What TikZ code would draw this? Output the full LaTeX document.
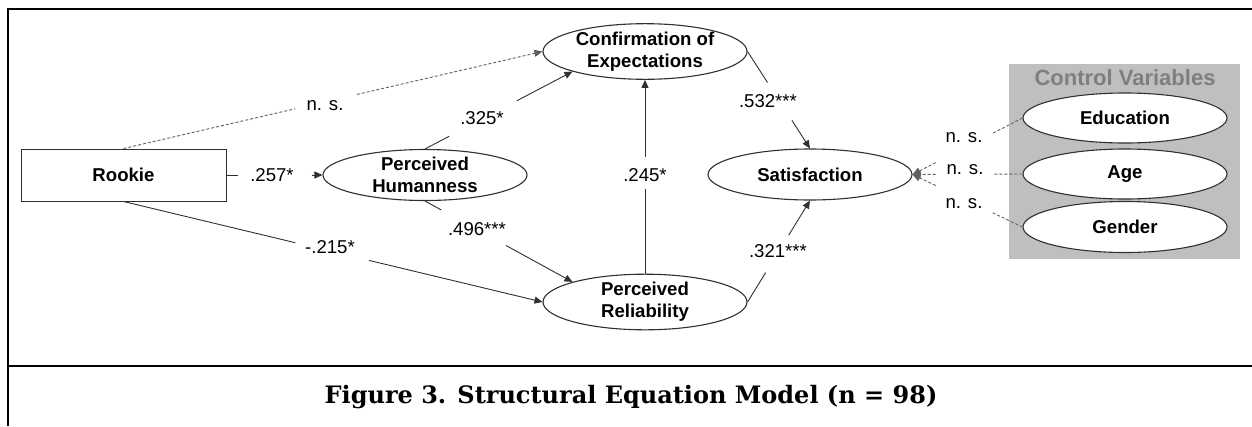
\documentclass[tikz,border=0pt]{standalone}
\usepackage{fontspec}
\setmainfont{Liberation Sans}
\newfontfamily\capfont{DejaVu Serif}
\usetikzlibrary{arrows.meta,shapes.geometric}
\definecolor{edgec}{HTML}{303030}
\definecolor{dashc}{HTML}{606060}
\definecolor{ctrlfill}{HTML}{BFBFBF}
\definecolor{ctrltext}{HTML}{7F7F7F}
\begin{document}
\begin{tikzpicture}[x=1pt,y=-1pt,
  frameline/.style={line width=2pt,black},
  rbox/.style={draw=edgec,line width=1pt,rectangle,minimum width=205pt,minimum height=52pt,inner sep=0pt,
    font=\fontsize{18.6}{22}\selectfont\bfseries},
  lat/.style={draw=edgec,line width=1.1pt,ellipse,minimum width=204pt,minimum height=51pt,inner sep=0pt,fill=white,
    align=center,font=\fontsize{18.6}{22}\selectfont\bfseries},
  lbl/.style={inner sep=0pt,text height=13.4pt,text depth=0pt,font=\fontsize{18.6}{22}\selectfont},
  nslbl/.style={inner sep=0pt,text height=9.8pt,text depth=0pt,font=\fontsize{18.6}{22}\selectfont},
  sline/.style={draw=edgec,line width=0.9pt},
  dline/.style={draw=dashc,line width=0.9pt,dash pattern=on 3pt off 2pt},
  tip/.style={-{Triangle[length=8pt,width=7pt]}},
  ctrlbox/.style={fill=ctrlfill,draw=none,rectangle,minimum width=231pt,minimum height=195pt,inner sep=0pt},
  ctrltitle/.style={inner sep=0pt,text=ctrltext,font=\fontsize{22}{26}\selectfont\bfseries},
  caption/.style={inner sep=0pt,font=\capfont\bfseries\fontsize{24}{28}\selectfont}
]
\useasboundingbox (0,0) rectangle (1252,426);
\fill[white] (0,0) rectangle (1252,426);

% frame
\draw[frameline] (8,426) -- (8,9) -- (1252,9);
\draw[frameline] (8,366) -- (1252,366);

% nodes
\node[rbox] (rookie) at (123.5,175) {Rookie};
\node[lat] (hum) at (425,175) {Perceived\\Humanness};
\node[lat] (conf) at (645,51.5) {Confirmation of\\Expectations};
\node[lat] (rel) at (645,302) {Perceived\\Reliability};
\node[lat] (sat) at (810,174.5) {Satisfaction};

\node[ctrlbox] (ctrl) at (1124.5,161.5) {};
\node[ctrltitle] (ctrlt) at (1125,78) {Control Variables};
\node[lat,minimum height=50pt] (edu) at (1125,118) {Education};
\node[lat,minimum height=50pt] (age) at (1125,174) {Age};
\node[lat,minimum height=51pt] (gen) at (1125,227) {Gender};

% Rookie -> Confirmation (n.s., dashed)
\path (rookie.north) -- (conf.west) coordinate[pos=0.41] (e1a) coordinate[pos=0.557] (e1b);
\draw[dline] (rookie.north) -- (e1a);
\draw[dline,tip] (e1b) -- (conf.west);
\node[nslbl] (l1) at (325,106) {n. s.};

% Rookie -> Humanness
\path (rookie.east) -- (hum.west) coordinate[pos=0.124] (e2a) coordinate[pos=0.887] (e2b);
\draw[sline] (rookie.east) -- (e2a);
\draw[sline,tip] (e2b) -- (hum.west);
\node[lbl] (l2) at (272,175) {.257*};

% Rookie -> Reliability
\path (rookie.south) -- (rel.west) coordinate[pos=0.41] (e3a) coordinate[pos=0.586] (e3b);
\draw[sline] (rookie.south) -- (e3a);
\draw[sline,tip] (e3b) -- (rel.west);
\node[lbl] (l3) at (330,247) {-.215*};

% Humanness -> Confirmation
\path (hum.north) -- (conf.south west) coordinate[pos=0.164] (e4a) coordinate[pos=0.623] (e4b);
\draw[sline] (hum.north) -- (e4a);
\draw[sline,tip] (e4b) -- (conf.south west);
\node[lbl] (l4) at (482,118) {.325*};

% Humanness -> Reliability
\path (hum.south) -- (rel.north west) coordinate[pos=0.11] (e5a) coordinate[pos=0.55] (e5b);
\draw[sline] (hum.south) -- (e5a);
\draw[sline,tip] (e5b) -- (rel.north west);
\node[lbl] (l5) at (477,229) {.496***};

% Reliability -> Confirmation
\path (rel.north) -- (conf.south) coordinate[pos=0.435] (e6a) coordinate[pos=0.6] (e6b);
\draw[sline] (rel.north) -- (e6a);
\draw[sline,tip] (e6b) -- (conf.south);
\node[lbl] (l6) at (645,175) {.245*};

% Confirmation -> Satisfaction
\path (conf.east) -- (sat.north) coordinate[pos=0.32] (e7a) coordinate[pos=0.71] (e7b);
\draw[sline] (conf.east) -- (e7a);
\draw[sline,tip] (e7b) -- (sat.north);
\node[lbl] (l7) at (768,101) {.532***};

% Reliability -> Satisfaction
\path (rel.east) -- (sat.south) coordinate[pos=0.29] (e8a) coordinate[pos=0.66] (e8b);
\draw[sline] (rel.east) -- (e8a);
\draw[sline,tip] (e8b) -- (sat.south);
\node[lbl] (l8) at (778,251) {.321***};

% Control variables -> Satisfaction
\path (edu.west) -- (sat.east) coordinate[pos=0.27] (c1a) coordinate[pos=0.79] (c1b);
\draw[dline] (edu.west) -- (c1a);
\draw[dline,tip] (c1b) -- (sat.east);
\node[nslbl] (n1) at (964,138) {n. s.};

\path (age.west) -- (sat.east) coordinate[pos=0.26] (c2a) coordinate[pos=0.79] (c2b);
\draw[dline] (age.west) -- (c2a);
\draw[dline,tip] (c2b) -- (sat.east);
\node[nslbl] (n2) at (965,170) {n. s.};

\path (gen.west) -- (sat.east) coordinate[pos=0.27] (c3a) coordinate[pos=0.79] (c3b);
\draw[dline] (gen.west) -- (c3a);
\draw[dline,tip] (c3b) -- (sat.east);
\node[nslbl] (n3) at (964,204) {n. s.};

% caption
\node[caption] (cap) at (631,397) {Figure 3. Structural Equation Model (n = 98)};
\end{tikzpicture}
\end{document}
